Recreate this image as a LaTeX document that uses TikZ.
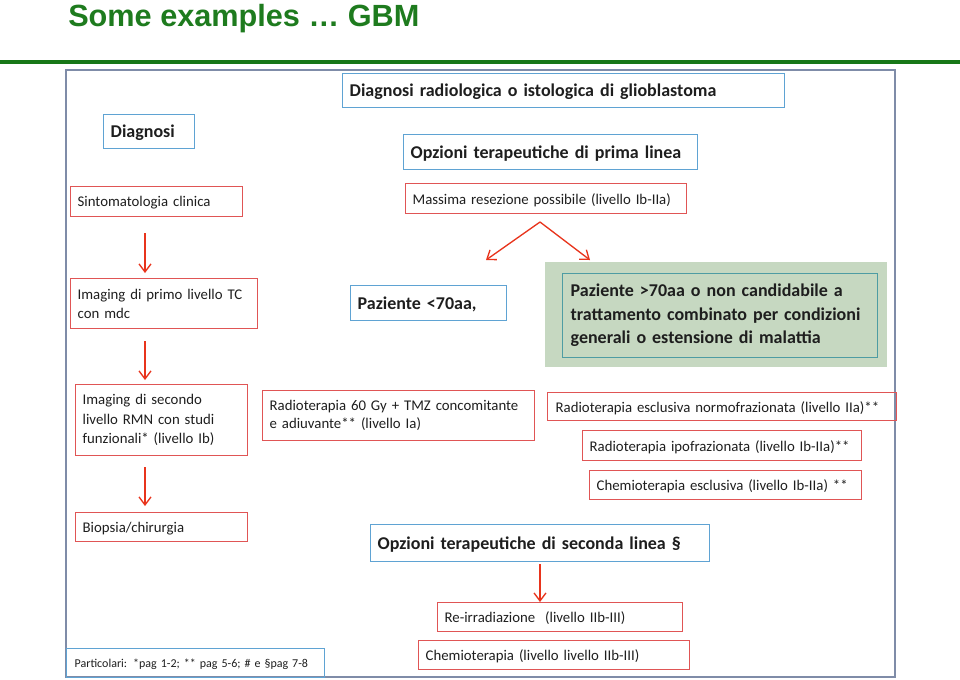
\documentclass[tikz,border=0pt]{standalone}
\usepackage{fontspec}
\setmainfont{Carlito}
\newfontfamily\titlefont{Liberation Sans}
\usetikzlibrary{arrows.meta,calc}
\newdimen\pxd \pxd=0.75pt
\definecolor{titlegreen}{HTML}{1E7B1E}
\definecolor{bandgreen}{HTML}{177717}
\definecolor{framec}{HTML}{7F8CA8}
\definecolor{redb}{HTML}{E05555}
\definecolor{blueb}{HTML}{5FA3D3}
\definecolor{arrowred}{HTML}{E8341C}
\definecolor{greenbg}{HTML}{C6D8C1}
\definecolor{tealb}{HTML}{4E9CA3}
\definecolor{txt}{HTML}{1E1E1E}
\begin{document}
\begin{tikzpicture}[x=0.75pt,y=-0.75pt,
  box/.style={draw, anchor=north west, inner xsep=7\pxd, inner ysep=0pt, align=left, text=txt, line width=1pt},
  oneline/.style={text depth=0pt},
  redbox/.style={box, draw=redb, font=\fontsize{11.1}{14.5}\selectfont},
  bluebox/.style={box, draw=blueb, font=\fontsize{13.5}{16}\selectfont\bfseries},
  tealbox/.style={box, draw=tealb, inner xsep=8\pxd, font=\fontsize{13.5}{17.6}\selectfont\bfseries},
  redarrow/.style={draw=arrowred, line width=1pt, -{Straight Barb[length=6pt,width=9pt]}}]
\useasboundingbox (0,0) rectangle (960,679);
% title
\node[anchor=base west, inner sep=0pt, text=titlegreen, font=\titlefont\fontsize{23}{26}\selectfont\bfseries] (title) at (68,26) {Some examples … GBM};
\fill[bandgreen] (0,59.5) rectangle (960,63.5);
% frame
\draw[framec, line width=1pt] (66,70) rectangle (895,677);
% top
\node[bluebox, oneline, text width=428\pxd, minimum height=34\pxd] (diag) at (342,73) {Diagnosi radiologica o istologica di glioblastoma};
\node[bluebox, oneline, text width=77\pxd, minimum height=34\pxd] (dg) at (103,114) {Diagnosi};
\node[bluebox, oneline, text width=280\pxd, minimum height=35\pxd] (opz1) at (403,134) {Opzioni terapeutiche di prima linea};
\node[redbox, oneline, text width=267\pxd, minimum height=30\pxd] (mass) at (405,183) {Massima resezione possibile (livello Ib-IIa)};
\coordinate (apex) at (540,222);
\coordinate (lt) at (486,260);
\coordinate (rt) at (590,260);
\draw[redarrow] (apex) -- (lt);
\draw[redarrow] (apex) -- (rt);
\node[bluebox, oneline, text width=142\pxd, minimum height=35\pxd] (p70a) at (350,285) {Paziente <70aa,};
\fill[greenbg] (545,262) rectangle (887,367);
\node[tealbox, text width=299\pxd, minimum height=84\pxd] (p70b) at (562,273) {Paziente >70aa o non candidabile a\\trattamento combinato per condizioni\\generali o estensione di malattia};
% left column
\node[redbox, oneline, text width=158\pxd, minimum height=30\pxd] (s1) at (70,186) {Sintomatologia clinica};
\node[redbox, text width=173\pxd, minimum height=50\pxd] (s2) at (70,278) {Imaging di primo livello TC\\con mdc};
\node[redbox, text width=158\pxd, minimum height=71\pxd] (s3) at (75,384) {Imaging di secondo\\livello RMN con studi\\funzionali* (livello Ib)};
\node[redbox, oneline, text width=158\pxd, minimum height=29\pxd] (s4) at (75,512) {Biopsia/chirurgia};
\draw[redarrow] ($(s1.south west)+(75,16)$) -- ($(s2.north west)+(75,-5)$);
\draw[redarrow] ($(s2.south west)+(75,12)$) -- ($(s3.north west)+(70,-4)$);
\draw[redarrow] ($(s3.south west)+(70,11)$) -- ($(s4.north west)+(70,-6)$);
% treatments
\node[redbox, text width=258\pxd, minimum height=50\pxd, font=\fontsize{11.1}{13.5}\selectfont] (rt60) at (262,390) {Radioterapia 60 Gy + TMZ concomitante\\e adiuvante** (livello Ia)};
\node[redbox, oneline, text width=333\pxd, minimum height=28\pxd, inner xsep=8\pxd] (rn) at (547,392) {Radioterapia esclusiva normofrazionata (livello IIa)**};
\node[redbox, oneline, text width=265\pxd, minimum height=30\pxd] (ri) at (582,430) {Radioterapia ipofrazionata (livello Ib-IIa)**};
\node[redbox, oneline, text width=258\pxd, minimum height=29\pxd] (ce) at (589,470) {Chemioterapia esclusiva (livello Ib-IIa) **};
% second line
\node[bluebox, oneline, text width=325\pxd, minimum height=37\pxd] (opz2) at (370,524) {Opzioni terapeutiche di seconda linea §};
\node[redbox, oneline, text width=231\pxd, minimum height=29\pxd] (re) at (437,602) {Re-irradiazione\ \ (livello IIb-III)};
\node[redbox, oneline, text width=257\pxd, minimum height=29\pxd] (ch) at (418,640) {Chemioterapia (livello livello IIb-III)};
\draw[redarrow] ($(opz2.south west)+(170,2)$) -- ($(re.north west)+(103,0)$);
% footnote
\node[box, oneline, draw=blueb, text width=242\pxd, minimum height=29\pxd, inner xsep=8\pxd, font=\fontsize{9}{11}\selectfont] (part) at (66,648) {Particolari: *pag 1-2; ** pag 5-6; \# e §pag 7-8};
\end{tikzpicture}
\end{document}
